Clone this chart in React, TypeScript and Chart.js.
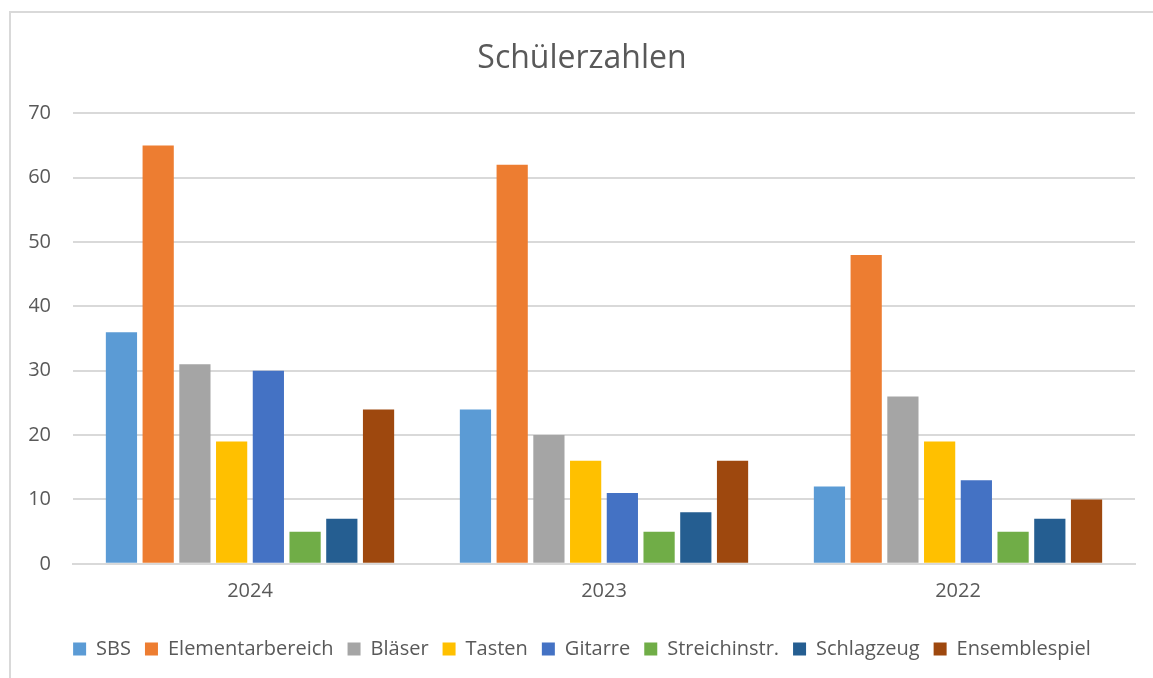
import React, { useEffect, useRef } from "react";
import { Chart, registerables } from "chart.js";

Chart.register(...registerables);

const categories = ["2024", "2023", "2022"];
const seriesNames = ["SBS", "Elementarbereich", "Bläser", "Tasten", "Gitarre", "Streichinstr.", "Schlagzeug", "Ensemblespiel"];
const sbs = [36, 24, 12];
const elementarbereich = [65, 62, 48];
const blaeser = [31, 20, 26];
const tasten = [19, 16, 19];
const gitarre = [30, 11, 13];
const streichinstr = [5, 5, 5];
const schlagzeug = [7, 8, 7];
const ensemblespiel = [24, 16, 10];
const colors = ["#5B9BD5", "#ED7D31", "#A5A5A5", "#FFC000", "#4472C4", "#70AD47", "#255E91", "#9E480E"];
const yTicks = [0, 10, 20, 30, 40, 50, 60, 70];

export default function App() {
  const ref = useRef<HTMLCanvasElement | null>(null);
  useEffect(() => {
    if (!ref.current) return;
    const values = [sbs, elementarbereich, blaeser, tasten, gitarre, streichinstr, schlagzeug, ensemblespiel];
    const font = "'Open Sans', sans-serif";
    const chart = new Chart(ref.current, {
      type: "bar",
      data: {
        labels: categories,
        datasets: seriesNames.map((n, i) => ({
          label: n,
          data: values[i],
          backgroundColor: colors[i],
          borderWidth: 0,
          barPercentage: 0.85,
          categoryPercentage: 0.83,
        })),
      },
      options: {
        animation: false,
        responsive: false,
        maintainAspectRatio: false,
        layout: { padding: { left: 18, right: 26, top: 8, bottom: 24 } },
        plugins: {
          title: {
            display: true,
            text: "Schülerzahlen",
            color: "#595959",
            font: { family: font, size: 32, weight: "normal" },
            padding: { top: 19, bottom: 35 },
          },
          legend: {
            position: "bottom",
            title: { display: true, text: " ", font: { size: 6 }, padding: 0 },
            labels: {
              color: "#595959",
              font: { family: font, size: 20 },
              boxWidth: 13,
              boxHeight: 13,
              padding: 14,
            },
          },
          tooltip: { enabled: false },
        },
        scales: {
          x: {
            grid: { display: false, drawTicks: false },
            border: { display: true, color: "#d9d9d9", width: 2 },
            ticks: { color: "#595959", font: { family: font, size: 20, lineHeight: 2.7 }, padding: 0 },
          },
          y: {
            min: 0,
            max: 70,
            afterBuildTicks: (axis: any) => {
              axis.ticks = yTicks.map((v) => ({ value: v }));
            },
            afterFit: (axis: any) => {
              axis.width = 44;
            },
            grid: { color: "#d9d9d9", lineWidth: 2, drawTicks: false },
            border: { display: false },
            ticks: { color: "#595959", font: { family: font, size: 20 }, padding: 22 },
          },
        },
      },
    });
    return () => chart.destroy();
  }, []);
  return (
    <div
      style={{
        position: "fixed",
        left: 9,
        top: 11,
        width: 1150,
        height: 680,
        border: "2px solid #d9d9d9",
        background: "#fff",
      }}
    >
      <canvas ref={ref} width={1150} height={680} style={{ display: "block" }} />
    </div>
  );
}
